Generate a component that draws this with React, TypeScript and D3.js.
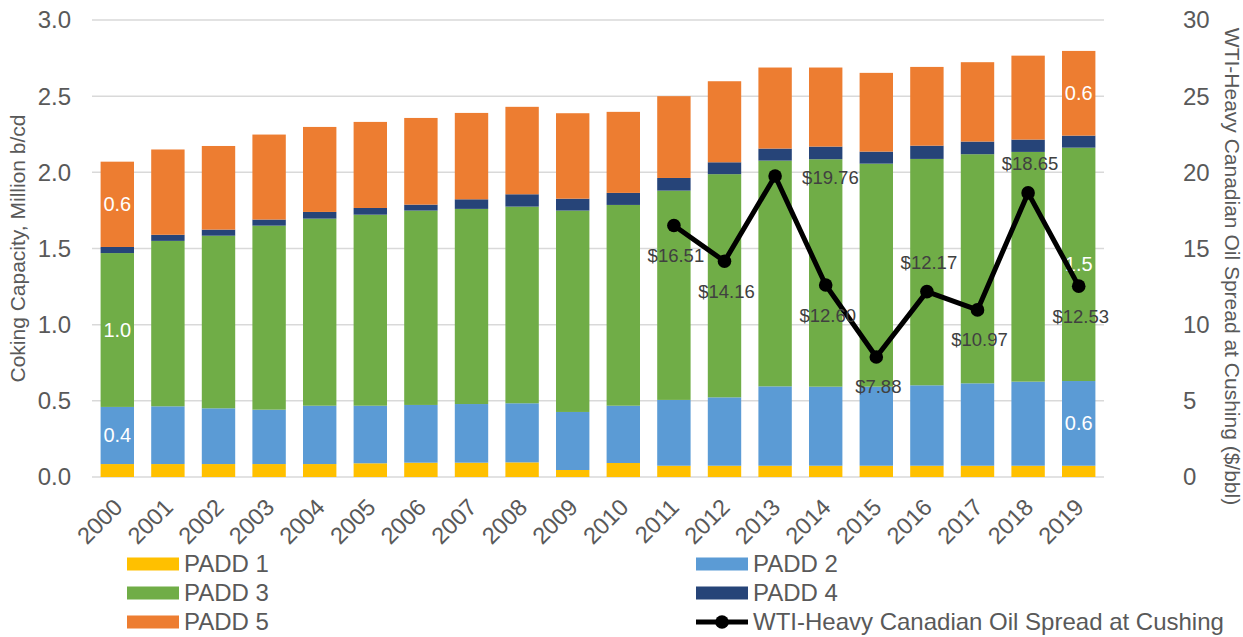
import React from 'react';
import * as d3 from 'd3';

const years = ['2000','2001','2002','2003','2004','2005','2006','2007','2008','2009','2010','2011','2012','2013','2014','2015','2016','2017','2018','2019'];
const padd1 = [0.085,0.085,0.085,0.085,0.085,0.09,0.094,0.094,0.096,0.046,0.092,0.074,0.074,0.074,0.074,0.074,0.074,0.074,0.074,0.074];
const padd2 = [0.375,0.379,0.366,0.357,0.383,0.378,0.379,0.385,0.388,0.381,0.376,0.432,0.449,0.521,0.519,0.519,0.528,0.541,0.552,0.556];
const padd3 = [1.01,1.086,1.133,1.208,1.228,1.254,1.276,1.281,1.291,1.322,1.318,1.374,1.465,1.482,1.493,1.464,1.486,1.504,1.508,1.532];
const padd4 = [0.04,0.04,0.04,0.04,0.044,0.044,0.039,0.063,0.081,0.078,0.079,0.083,0.078,0.079,0.083,0.079,0.087,0.083,0.081,0.079];
const padd5 = [0.56,0.56,0.549,0.558,0.558,0.565,0.569,0.567,0.574,0.561,0.532,0.537,0.532,0.532,0.519,0.517,0.517,0.521,0.551,0.556];
const spreadYears = ['2011','2012','2013','2014','2015','2016','2017','2018','2019'];
const spread = [16.51,14.16,19.76,12.60,7.88,12.17,10.97,18.65,12.53];
// where each $ label sits relative to its point
const spreadLabelPos = ['below','below','right','below','below','above','below','above','below'];
const leftTicks = [0,0.5,1,1.5,2,2.5,3];
const rightTicks = [0,5,10,15,20,25,30];

const seriesNames = ['PADD 1','PADD 2','PADD 3','PADD 4','PADD 5'];
const seriesColors = ['#FFC000','#5B9BD5','#70AD47','#264478','#ED7D31'];
const seriesValues = [padd1, padd2, padd3, padd4, padd5];
const lineName = 'WTI-Heavy Canadian Oil Spread at Cushing';

const W = 1243, H = 637;
const m = {left: 92, right: 1104, top: 20, bottom: 477};
const font = '"Liberation Sans", Arial, sans-serif';
const grey = '#595959';

export default function App() {
  const x = d3.scaleBand().domain(years).range([m.left, m.right]).paddingInner(0.34).paddingOuter(0.17);
  const y = d3.scaleLinear().domain([0, 3]).range([m.bottom, m.top]);
  const y2 = d3.scaleLinear().domain([0, 30]).range([m.bottom, m.top]);

  const rows = years.map((yr, i) => {
    const r: any = {year: yr};
    seriesNames.forEach((n, k) => { r[n] = seriesValues[k][i]; });
    return r;
  });
  const stacked = d3.stack().keys(seriesNames)(rows);

  const cx = (yr: string) => (x(yr) as number) + x.bandwidth() / 2;
  const linePts = spreadYears.map((yr, i) => [cx(yr), y2(spread[i])] as [number, number]);
  const linePath = d3.line()(linePts) as string;

  // white value labels on the first and last bars
  const barLabels: {x: number, y: number, t: string}[] = [];
  [0, years.length - 1].forEach(i => {
    [1, 2, 4].forEach(k => {
      const seg = stacked[k][i];
      barLabels.push({x: cx(years[i]), y: y((seg[0] + seg[1]) / 2), t: d3.format('.1f')(seg[1] - seg[0])});
    });
  });

  const legendItems = [
    {name: 'PADD 1', color: seriesColors[0], col: 0, row: 0},
    {name: 'PADD 2', color: seriesColors[1], col: 1, row: 0},
    {name: 'PADD 3', color: seriesColors[2], col: 0, row: 1},
    {name: 'PADD 4', color: seriesColors[3], col: 1, row: 1},
    {name: 'PADD 5', color: seriesColors[4], col: 0, row: 2},
    {name: lineName, color: '#000', col: 1, row: 2, line: true},
  ];
  const legX = [127, 696];
  const legY = [564, 593, 622];

  return (
    <svg width={W} height={H} style={{position: 'absolute', left: 0, top: 0, background: '#fff'}} fontFamily={font}>
      {leftTicks.map(t => (
        <line key={t} x1={m.left} x2={m.right} y1={y(t)} y2={y(t)} stroke="#d9d9d9" strokeWidth={1.5} />
      ))}
      {stacked.map((s, k) => (
        <g key={k} fill={seriesColors[k]}>
          {s.map((d, i) => (
            <rect key={i} x={x(years[i])} width={x.bandwidth()} y={y(d[1])} height={y(d[0]) - y(d[1])} />
          ))}
        </g>
      ))}
      {barLabels.map((l, i) => (
        <text key={i} x={l.x} y={l.y} dy="0.35em" textAnchor="middle" fill="#fff" fontSize={20}>{l.t}</text>
      ))}
      <path d={linePath} fill="none" stroke="#000" strokeWidth={5} strokeLinejoin="round" />
      {linePts.map((p, i) => <circle key={i} cx={p[0]} cy={p[1]} r={6.8} fill="#000" />)}
      {linePts.map((p, i) => {
        const pos = spreadLabelPos[i];
        const lx = pos === 'right' ? p[0] + 27 : p[0] + 2;
        const ly = pos === 'below' ? p[1] + 30 : pos === 'above' ? p[1] - 29 : p[1] + 2;
        return (
          <text key={i} x={lx} y={ly} dy="0.35em" textAnchor={pos === 'right' ? 'start' : 'middle'} fill="#404040" fontSize={18.5}>
            {'$' + d3.format('.2f')(spread[i])}
          </text>
        );
      })}
      {leftTicks.map(t => (
        <text key={t} x={71} y={y(t)} dy="0.35em" textAnchor="end" fill={grey} fontSize={24}>{d3.format('.1f')(t)}</text>
      ))}
      {rightTicks.map(t => (
        <text key={t} x={1183} y={y2(t)} dy="0.35em" textAnchor="start" fill={grey} fontSize={24}>{t}</text>
      ))}
      {years.map(yr => (
        <text key={yr} transform={`translate(${cx(yr) - 5},${497}) rotate(-45)`} textAnchor="end" dy="0.7em" fill={grey} fontSize={23.5}>{yr}</text>
      ))}
      <text transform={`translate(18,${(m.top + m.bottom) / 2}) rotate(-90)`} textAnchor="middle" dy="0.35em" fill={grey} fontSize={21}>
        Coking Capacity, Million b/cd
      </text>
      <text transform={`translate(1232,${(m.top + m.bottom) / 2 + 18}) rotate(90)`} textAnchor="middle" dy="0.35em" fill={grey} fontSize={21}>
        WTI-Heavy Canadian Oil Spread at Cushing ($/bbl)
      </text>
      {legendItems.map(it => {
        const lx = legX[it.col], ly = legY[it.row];
        return (
          <g key={it.name}>
            {it.line ? (
              <g>
                <line x1={lx} x2={lx + 52} y1={ly} y2={ly} stroke="#000" strokeWidth={5} />
                <circle cx={lx + 26} cy={ly} r={6.8} fill="#000" />
              </g>
            ) : (
              <rect x={lx} y={ly - 6.5} width={52} height={13} fill={it.color} />
            )}
            <text x={lx + 57} y={ly} dy="0.35em" fill={grey} fontSize={24}>{it.name}</text>
          </g>
        );
      })}
    </svg>
  );
}
